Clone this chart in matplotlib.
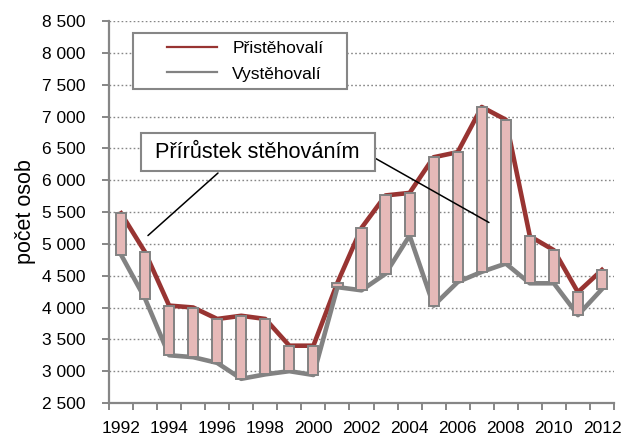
import numpy as np
import matplotlib
matplotlib.use("Agg")
import matplotlib.pyplot as plt
from matplotlib.legend_handler import HandlerLine2D
from matplotlib.patches import Rectangle

plt.rcParams["font.family"] = ["Liberation Sans", "DejaVu Sans"]

years = list(range(1992, 2013))
pristehovali = [5480, 4870, 4030, 4000, 3820, 3870, 3820, 3400, 3400, 4390, 5250,
                5760, 5800, 6360, 6440, 7150, 6950, 5120, 4900, 4240, 4590]
vystehovali = [4830, 4140, 3250, 3220, 3130, 2880, 2950, 3000, 2940, 4320, 4270,
               4530, 5130, 4030, 4400, 4560, 4690, 4380, 4380, 3880, 4290]
yticks = list(range(2500, 8501, 500))

RED = "#983432"
GRAY = "#828282"
PINK = "#E6B9B8"
AXIS = "#868686"


class ShortLine(HandlerLine2D):
    # legend line starts a bit in from the left, like in Excel
    def get_xdata(self, legend, xdescent, ydescent, width, height, fontsize):
        x0 = -xdescent + 1.5 * fontsize
        x1 = -xdescent + width
        return [x0, x1], [0.5 * (x0 + x1)]


x = np.arange(len(years))
p = np.array(pristehovali)
v = np.array(vystehovali)

fig = plt.figure(figsize=(6.25, 4.41), dpi=100)
ax = fig.add_axes([109 / 625, 1 - 403 / 441, 505 / 625, 382 / 441])

l1, = ax.plot(x, p, color=RED, lw=3.3, solid_joinstyle="round", zorder=3,
              label="Přistěhovalí")
l2, = ax.plot(x, v, color=GRAY, lw=3.3, solid_joinstyle="round", zorder=3,
              label="Vystěhovalí")
ax.bar(x, p - v, bottom=v, width=0.42, color=PINK, edgecolor=GRAY, lw=1.4,
       zorder=4)

ax.set_xlim(-0.5, len(years) - 0.5)
ax.set_ylim(2500, 8500)

ax.set_yticks(yticks)
ax.set_yticklabels([f"{t:,}".replace(",", " ") for t in yticks])
ax.yaxis.grid(True, color=AXIS, lw=1.0, linestyle=(0, (1.2, 1.7)), zorder=1)
ax.set_axisbelow(True)

ax.set_xticks(x[::2])
ax.set_xticklabels([str(y) for y in years[::2]])
ax.set_xticks(np.arange(-0.5, len(years)), minor=True)
ax.tick_params(axis="x", which="major", length=0, pad=13, labelsize=12.5)
ax.tick_params(axis="x", which="minor", length=5, width=1.4, color=AXIS,
               direction="out")
ax.tick_params(axis="y", length=5, width=1.4, color=AXIS, pad=12,
               labelsize=12.5)

for s in ["top", "right"]:
    ax.spines[s].set_visible(False)
for s in ["left", "bottom"]:
    ax.spines[s].set_color(AXIS)
    ax.spines[s].set_linewidth(1.6)

ax.set_ylabel("počet osob", fontsize=15.5)
ax.yaxis.set_label_coords(-0.145, 0.5)

leg = ax.legend(handles=[l1, l2], loc="upper left",
                bbox_to_anchor=(24 / 505, 1 - 12 / 382, 214 / 505, 0),
                mode="expand", borderaxespad=0, fontsize=12.5,
                handlelength=4.4, handletextpad=0.86, borderpad=0.45,
                labelspacing=0.6, fancybox=False, edgecolor=AXIS,
                framealpha=1, handler_map={matplotlib.lines.Line2D: ShortLine()})
leg.get_frame().set_linewidth(1.5)
for ln in leg.get_lines():
    ln.set_linewidth(1.6)

# callout box
fig.add_artist(Rectangle((141 / 625, 1 - 171 / 441), 234 / 625, 38 / 441,
                         transform=fig.transFigure, facecolor="white",
                         edgecolor=AXIS, lw=1.5, zorder=6))
fig.text(257 / 625, 1 - 152 / 441, "Přírůstek stěhováním", fontsize=15.7,
         ha="center", va="center", zorder=7)
ax.annotate("", xy=(1.12, 5130), xytext=(218 / 625, 1 - 173 / 441),
            textcoords="figure fraction",
            arrowprops=dict(arrowstyle="-", lw=1.1, color="black",
                            shrinkA=0, shrinkB=0), zorder=6)
ax.annotate("", xy=(15.3, 5335), xytext=(373 / 625, 1 - 157 / 441),
            textcoords="figure fraction",
            arrowprops=dict(arrowstyle="-", lw=1.1, color="black",
                            shrinkA=0, shrinkB=0), zorder=6)

fig.savefig("out.png", dpi=100)
plt.close()
